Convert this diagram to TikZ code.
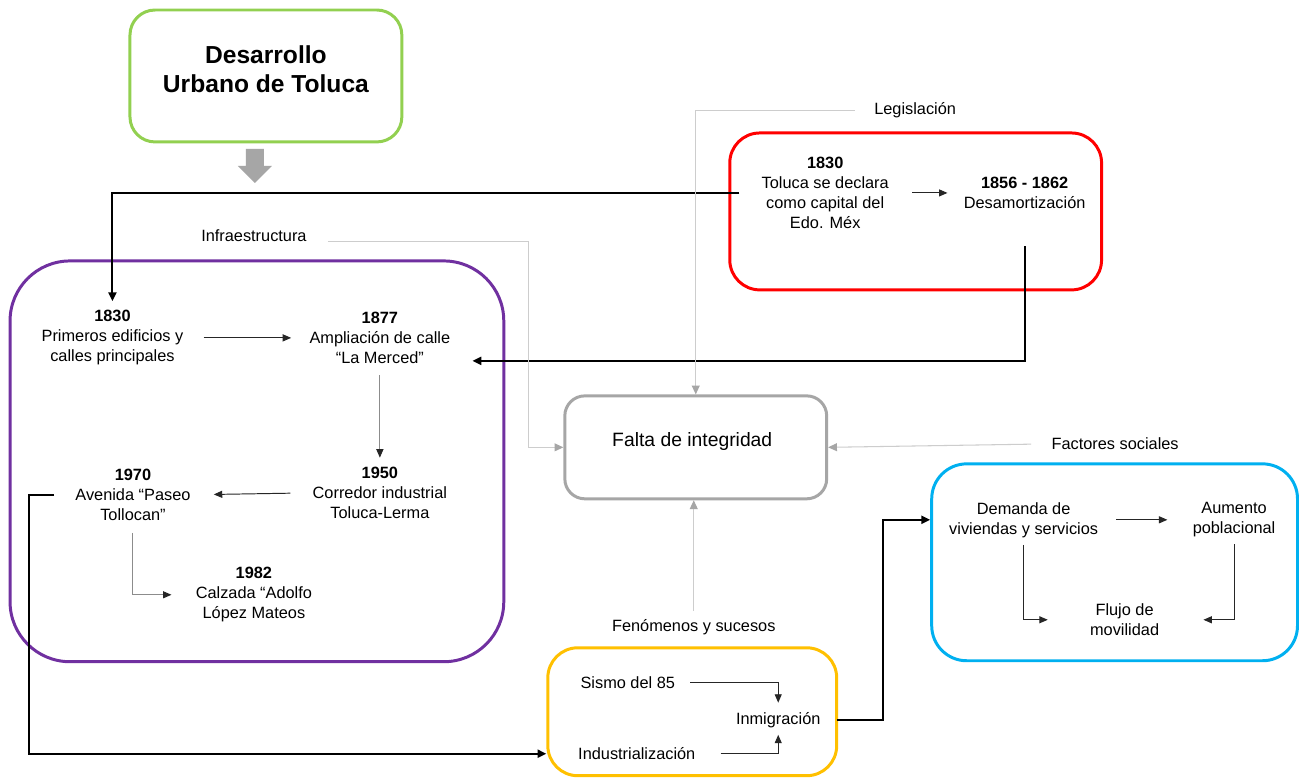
\documentclass[tikz,border=0pt]{standalone}
\usepackage{fontspec}
\setmainfont{Liberation Sans}
\usetikzlibrary{arrows.meta,positioning,calc}
\definecolor{verdeT}{RGB}{146,208,80}
\definecolor{moradoT}{RGB}{112,48,160}
\definecolor{rojoT}{RGB}{255,0,0}
\definecolor{grisF}{RGB}{166,166,166}
\definecolor{grisL}{RGB}{205,205,205}
\definecolor{amarilloT}{RGB}{255,192,0}
\definecolor{azulT}{RGB}{0,176,240}

\begin{document}
\begin{tikzpicture}[x=0.02cm, y=-0.02cm,
  txt/.style={align=center, inner sep=0pt, font=\fontsize{9.3}{11.4}\selectfont},
  caja/.style={draw=#1, line width=1.7pt, inner sep=0pt},
  conN/.style={draw=black!85, line width=0.55pt, -{Triangle[length=4.8pt,width=4pt]}},
  conS/.style={draw=black!45, line width=0.55pt, -{Triangle[length=4.8pt,width=4pt,color=black!85]}},
  conT/.style={draw=black, line width=1.1pt, -{Triangle[length=5pt,width=4.6pt]}},
  conL/.style={draw=grisL, line width=0.6pt, -{Triangle[length=5pt,width=4.5pt,color=grisF]}}
]
  \fill[white] (0,0) rectangle (1299,780);

  % cajas
  \node[caja=verdeT, rounded corners=0.5cm, minimum width=5.44cm, minimum height=2.64cm] (cajaVerde) at (266,76) {};
  \node[caja=rojoT, rounded corners=0.6cm, minimum width=7.44cm, minimum height=3.14cm] (cajaRoja) at (916,211.5) {};
  \node[caja=moradoT, rounded corners=1.2cm, minimum width=9.88cm, minimum height=8.02cm] (cajaMorada) at (257,461.5) {};
  \node[caja=grisF, rounded corners=0.4cm, minimum width=5.24cm, minimum height=2.06cm] (falta) at (696,447.5) {};
  \node[caja=amarilloT, rounded corners=0.6cm, minimum width=5.78cm, minimum height=2.56cm] (cajaAmarilla) at (692.5,712) {};
  \node[caja=azulT, rounded corners=0.7cm, minimum width=7.32cm, minimum height=3.94cm] (cajaAzul) at (1115,562.5) {};

  \node[align=center, inner sep=0pt, font=\fontsize{14}{16.5}\selectfont\bfseries] (titulo) at (266,69) {Desarrollo\\Urbano de Toluca};
  \node[inner sep=0pt, font=\fontsize{11}{13}\selectfont] (faltaTxt) at (692.5,442) {Falta de integridad};
  \fill[grisF] (246,149) -- (264,149) -- (264,166) -- (272,166) -- (255,183) -- (238,166) -- (246,166) -- cycle;

  % etiquetas
  \node[txt] (lblLeg) at (915.5,110.5) {Legislación};
  \node[txt] (lblInf) at (254,236) {Infraestructura};
  \node[txt] (lblFac) at (1115.5,444) {Factores sociales};
  \node[txt] (lblFen) at (694,627) {Fenómenos y sucesos};

  % legislacion
  \node[txt] (leg1830) at (825.5,193) {\textbf{1830}\\Toluca se declara\\como capital del\\Edo. Méx};
  \node[txt] (desam) at (1025,193) {\textbf{1856 - 1862}\\Desamortización};

  % infraestructura
  \node[txt] (inf1830) at (112.5,338) {\textbf{1830}\\Primeros edificios y\\calles principales};
  \node[txt] (inf1877) at (380,338) {\textbf{1877}\\Ampliación de calle\\“La Merced”};
  \node[txt] (inf1950) at (380,493) {\textbf{1950}\\Corredor industrial\\Toluca-Lerma};
  \node[txt] (inf1970) at (133,495) {\textbf{1970}\\Avenida “Paseo\\Tollocan”};
  \node[txt] (inf1982) at (254,595) {\textbf{1982}\\Calzada “Adolfo\\López Mateos};

  % fenomenos
  \node[txt] (sismo) at (628,683) {Sismo del 85};
  \node[txt] (indus) at (637,754) {Industrialización};
  \node[txt] (inmig) at (778.5,720) {Inmigración};

  % factores sociales
  \node[txt] (demanda) at (1024,520) {Demanda de\\viviendas y servicios};
  \node[txt] (aumento) at (1234.5,520) {Aumento\\poblacional};
  \node[txt] (flujo) at (1125,620) {Flujo de\\movilidad};

  % conectores
  \draw[conN, shorten <=0.46cm, shorten >=0.32cm] (leg1830.east) -- (desam.west);
  \draw[conT, shorten <=0.44cm, shorten >=0.18cm] (leg1830.west) -| (inf1830.north);
  \draw[conT, shorten <=0.74cm] (desam.south) |- ([xshift=0.44cm,yshift=-0.46cm]inf1877.east);
  \draw[conN, shorten <=0.4cm, shorten >=0.36cm] (inf1830.east) -- (inf1877.west);
  \draw[conS, shorten <=0.22cm, shorten >=0.18cm] (inf1877.south) -- (inf1950.north);
  \draw[conN, shorten <=0.44cm, shorten >=0.46cm] (inf1950.west) -- (inf1970.east);
  \draw[conS, shorten <=0.24cm, shorten >=0.48cm] (inf1970.south) |- (inf1982.west);
  \draw[conT, shorten <=0.42cm] (inf1970.west) -- ++(-0.92cm,0) |- (cajaAmarilla.west |- indus.west);
  \draw[conN, shorten <=0.3cm, shorten >=0.18cm] (sismo.east) -| (inmig.north);
  \draw[conN, shorten <=0.5cm, shorten >=0.14cm] (indus.east) -| (inmig.south);
  \draw[conT, shorten <=0.32cm] (inmig.east) -- ++(1.24cm,0) |- (cajaAzul.west |- demanda.west);
  \draw[conN, shorten <=0.36cm, shorten >=0.5cm] (demanda.east) -- (aumento.west);
  \draw[conN, shorten <=0.14cm, shorten >=0.84cm] (demanda.south) |- (flujo.west);
  \draw[conN, shorten <=0.14cm, shorten >=0.88cm] (aumento.south) |- (flujo.east);

  \draw[conL, shorten <=0.38cm] (lblLeg.west) -| (falta.north);
  \draw[conL, shorten <=0.42cm] ([yshift=-0.12cm]lblInf.east) -| ([xshift=-0.7cm]falta.west) -- (falta.west);
  \draw[conL, shorten <=0.4cm] (lblFac.west) -- (falta.east);
  \draw[conL, shorten <=0.16cm] (lblFen.north) -- (lblFen.north |- falta.south);
\end{tikzpicture}
\end{document}
